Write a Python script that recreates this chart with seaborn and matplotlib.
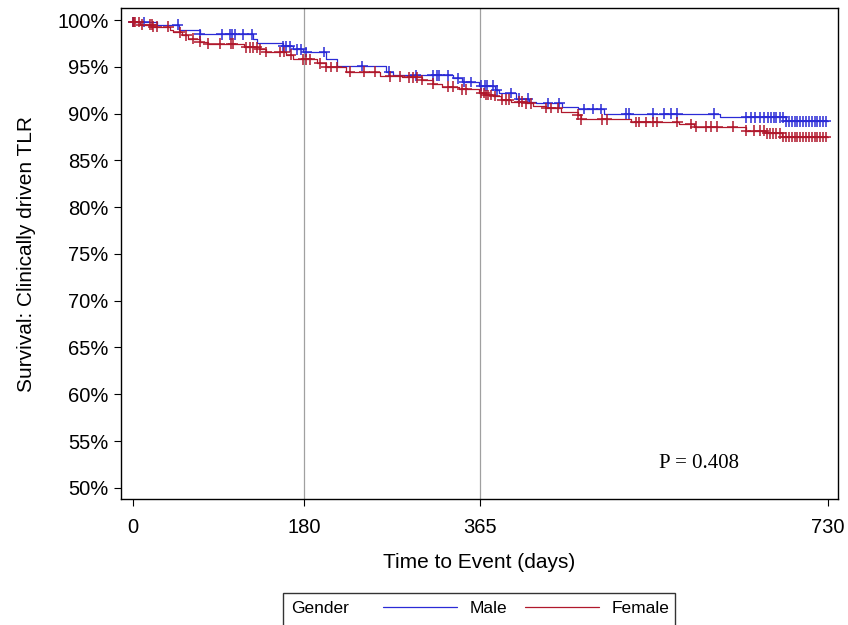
import numpy as np
import pandas as pd
import matplotlib
matplotlib.use('Agg')
import matplotlib.pyplot as plt
import matplotlib.patches as mpatches
from matplotlib.lines import Line2D
from matplotlib.ticker import PercentFormatter
import seaborn as sns

# Kaplan-Meier steps (day, survival after the step)
male_days = [0, 0.4, 25, 48, 51, 70, 126, 130, 158, 168, 179, 203, 214, 266, 273, 336, 346, 364,
             380, 385, 402, 416, 423, 451, 467, 495, 617, 686, 730]
male_surv = [1.000, 0.998, 0.995, 0.990, 0.989, 0.985, 0.980, 0.976, 0.972, 0.969, 0.966, 0.959, 0.951,
             0.945, 0.941, 0.938, 0.934, 0.930, 0.925, 0.922, 0.916, 0.913, 0.911, 0.907, 0.905, 0.900,
             0.896, 0.892, 0.892]

female_days = [0, 7, 21, 39, 42, 51, 58, 70, 79, 117, 133, 140, 161, 168, 193, 203, 224, 259, 283,
               304, 315, 325, 343, 364, 371, 378, 387, 397, 413, 420, 434, 450, 467, 471, 523, 574,
               589, 644, 665, 682, 730]
female_surv = [0.998, 0.995, 0.993, 0.990, 0.987, 0.984, 0.980, 0.977, 0.975, 0.971, 0.969, 0.966,
               0.963, 0.958, 0.954, 0.950, 0.945, 0.940, 0.939, 0.936, 0.932, 0.929, 0.926, 0.922,
               0.920, 0.919, 0.915, 0.913, 0.911, 0.908, 0.906, 0.902, 0.899, 0.894, 0.891, 0.889,
               0.886, 0.882, 0.879, 0.875, 0.875]

# censored observations (days)
male_cens = [0.4, 12, 47, 70, 93, 102, 104, 107, 116, 125, 158, 161, 165, 172, 177, 182, 201, 241,
             269, 297, 315, 319, 322, 331, 341, 348, 355, 366, 370, 372, 378, 382, 397, 406, 415,
             436, 448, 474, 483, 492, 518, 521, 546, 558, 565, 572, 610, 644, 649, 654, 659, 663,
             667, 670, 673, 676, 680, 683, 686, 689, 692, 695, 698, 701, 704, 707, 710, 713, 716,
             719, 722, 725, 728]
female_cens = [0, 1, 2, 6, 9, 18, 20, 21, 25, 37, 49, 56, 63, 70, 79, 91, 103, 105, 119, 123, 126,
               130, 133, 140, 154, 159, 166, 179, 182, 186, 196, 203, 208, 214, 228, 243, 254, 270,
               280, 290, 294, 298, 304, 315, 331, 336, 346, 350, 366, 369, 371, 373, 376, 380, 388,
               392, 395, 406, 409, 413, 418, 434, 439, 446, 467, 471, 493, 498, 528, 532, 539, 546,
               551, 572, 586, 591, 602, 607, 614, 630, 644, 652, 659, 663, 666, 669, 672, 676, 680,
               683, 686, 689, 692, 695, 698, 701, 704, 707, 710, 713, 716, 719, 722, 725, 728]

groups = ['Male', 'Female']
colors = {'Male': '#2b2bd6', 'Female': '#b0182c'}

curves = pd.concat([
    pd.DataFrame({'days': male_days, 'surv': male_surv, 'Gender': 'Male'}),
    pd.DataFrame({'days': female_days, 'surv': female_surv, 'Gender': 'Female'}),
], ignore_index=True)


def step_at(days, surv, t):
    idx = np.searchsorted(days, t, side='right') - 1
    return np.asarray(surv)[idx]


cens = pd.concat([
    pd.DataFrame({'days': male_cens, 'surv': step_at(male_days, male_surv, male_cens), 'Gender': 'Male'}),
    pd.DataFrame({'days': female_cens, 'surv': step_at(female_days, female_surv, female_cens), 'Gender': 'Female'}),
], ignore_index=True)

sns.set_style('white')
plt.rcParams['font.family'] = ['Liberation Sans', 'DejaVu Sans']
plt.rcParams['text.color'] = 'black'
plt.rcParams['axes.labelcolor'] = 'black'
plt.rcParams['xtick.color'] = 'black'
plt.rcParams['ytick.color'] = 'black'

fig = plt.figure(figsize=(8.48, 6.25), dpi=100)
ax = fig.add_axes([0.1427, 0.2016, 0.8453, 0.7856])

ax.axvline(180, color='#a0a0a0', lw=0.9, zorder=0)
ax.axvline(365, color='#a0a0a0', lw=0.9, zorder=0)

sns.lineplot(data=curves, x='days', y='surv', hue='Gender', hue_order=groups, palette=colors,
             drawstyle='steps-post', estimator=None, sort=False, lw=0.9, legend=False, ax=ax)
sns.scatterplot(data=cens, x='days', y='surv', hue='Gender', hue_order=groups, palette=colors,
                marker='+', s=60, linewidth=1.1, legend=False, ax=ax, zorder=3)

ax.set_xlim(-12.6, 740.5)
ax.set_ylim(0.488, 1.013)
ax.set_xticks([0, 180, 365, 730])
ax.set_yticks(np.arange(0.5, 1.001, 0.05))
ax.yaxis.set_major_formatter(PercentFormatter(1.0, decimals=0))
ax.tick_params(axis='both', direction='out', length=5, width=0.8, color='black',
               labelsize=14.5, bottom=True, left=True)
ax.tick_params(axis='x', pad=9)
ax.tick_params(axis='y', pad=4)
for s in ax.spines.values():
    s.set_color('black')
    s.set_linewidth(1.0)

ax.set_xlabel('Time to Event (days)', fontsize=15, labelpad=11)
ax.set_ylabel('Survival: Clinically driven TLR', fontsize=15, labelpad=15)

ax.text(595, 0.526, 'P = 0.408', fontsize=15, ha='center', va='center',
        family=['Liberation Serif', 'DejaVu Serif'])

# legend box at the bottom
fig.add_artist(mpatches.Rectangle((283 / 848, -0.01), 392 / 848, 0.0612, transform=fig.transFigure,
                                  fill=False, edgecolor='#333333', lw=1.0))
fig.text(291 / 848, 0.027, 'Gender', fontsize=12.5, ha='left', va='center')
handles = [Line2D([], [], color=colors[g], lw=0.9) for g in groups]
fig.legend(handles, groups, loc='center left', bbox_to_anchor=(383 / 848, 0.027), ncol=2,
           frameon=False, fontsize=12.5, handlelength=4.25, handletextpad=0.75, columnspacing=1.03,
           borderpad=0, borderaxespad=0)

fig.savefig('out.png', dpi=100)
